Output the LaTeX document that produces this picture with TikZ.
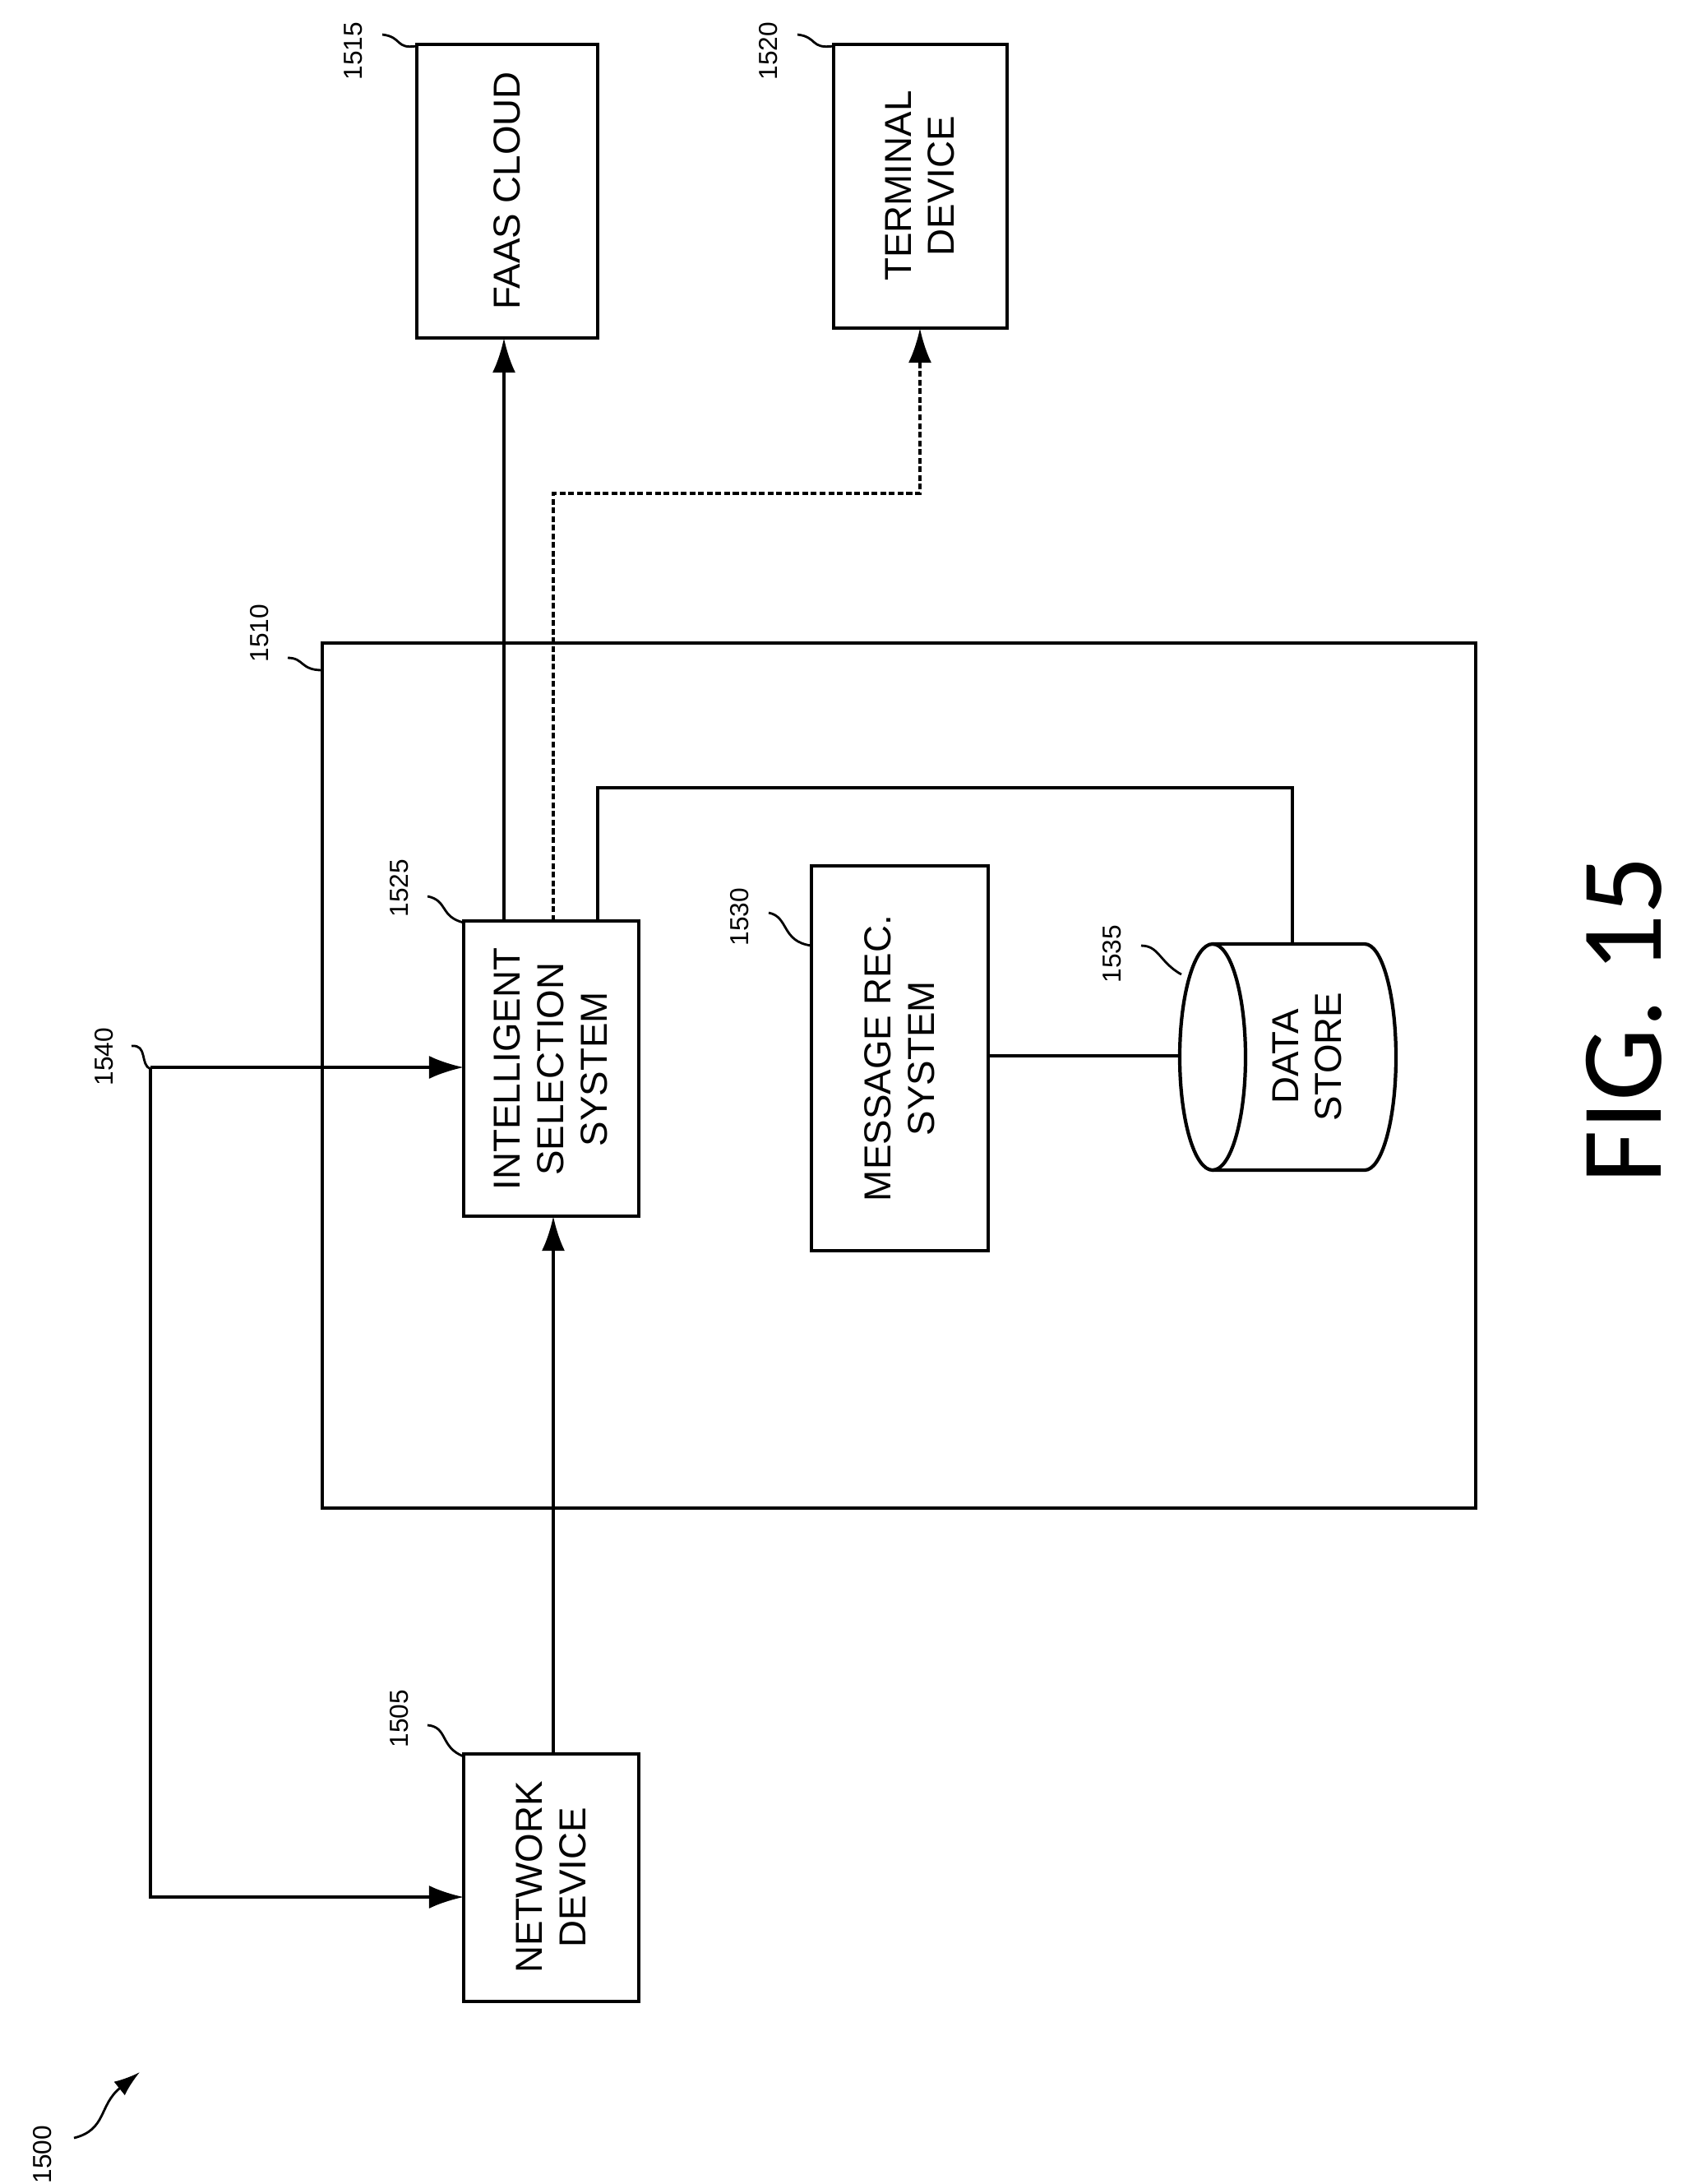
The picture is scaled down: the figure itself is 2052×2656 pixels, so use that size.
\documentclass[tikz,border=0pt]{standalone}
\usepackage{fontspec}
\setmainfont{Liberation Sans}
\newfontfamily\figfont{Carlito}
\usetikzlibrary{arrows.meta,shapes.geometric}
\begin{document}
\begin{tikzpicture}[x=0.01cm,y=-0.01cm,
  box/.style={draw,line width=1.2pt,inner sep=0pt},
  lbl/.style={rotate=90,align=center,font=\fontsize{13}{15}\selectfont},
  num/.style={rotate=90,font=\fontsize{9}{10}\selectfont},
  con/.style={line width=1.1pt},
  arr/.style={con,-{Latex[length=12pt,width=8pt]}},
  lead/.style={line width=0.8pt}]
\useasboundingbox (0,0) rectangle (2052,2656);
% outer
\draw[box] (392,782) rectangle (1795,1834);
% boxes
\draw[box] (507,54) rectangle (727,411); \node[lbl] (faas) at (617,232) {FAAS CLOUD};
\coordinate (faasb) at (613,411);
\draw[box] (1014,54) rectangle (1225,399); \node[lbl] (term) at (1119,226) {TERMINAL\\DEVICE};
\coordinate (termb) at (1119,399);
\draw[box] (564,1120) rectangle (777,1479); \node[lbl] (iss) at (670,1300) {INTELLIGENT\\SELECTION\\SYSTEM};
\draw[box] (987,1053) rectangle (1202,1521); \node[lbl] (msg) at (1094,1287) {MESSAGE REC.\\SYSTEM};
\draw[box] (564,2133) rectangle (777,2434); \node[lbl] (nd) at (670,2283) {NETWORK\\DEVICE};
% data store cylinder (horizontal axis)
\draw[box] (1475,1148) -- (1660,1148) arc[start angle=-90,end angle=90,x radius=38,y radius=137.5] -- (1475,1423);
\draw[box] (1475,1285.5) ellipse[x radius=40,y radius=137.5];
\node[lbl] (ds) at (1590,1285) {DATA\\STORE};
% connectors
\draw[arr] (613,1120) -- (faasb);
\draw[arr,dash pattern=on 2pt off 1pt] (673,1120) -- (673,600) -- (1119,600) -- (termb);
\draw[con] (727,1120) -- (727,958) -- (1572,958) -- (1572,1148);
\draw[con] (1202,1284) -- (1435,1284);
\draw[arr] (673,2133) -- (673,1479);
\coordinate (br1) at (183,1298); \coordinate (br2) at (183,2307);
\draw[arr] (br1) -- (564,1298);
\draw[arr] (br1) -- (br2) -- (564,2307);
% numbers
\node[num] at (430,62) {1515}; \draw[lead] (465,42) .. controls (490,45) and (480,60) .. (507,56);
\node[num] at (935,62) {1520}; \draw[lead] (970,42) .. controls (995,45) and (985,60) .. (1014,56);
\node[num] at (316,770) {1510}; \draw[lead] (350,800) .. controls (370,800) and (365,815) .. (392,815);
\node[num] at (486,1080) {1525}; \draw[lead] (520,1090) .. controls (545,1095) and (535,1115) .. (564,1122);
\node[num] at (900,1115) {1530}; \draw[lead] (935,1110) .. controls (960,1115) and (950,1145) .. (987,1150);
\node[num] at (1353,1160) {1535}; \draw[lead] (1388,1150) .. controls (1410,1150) and (1410,1170) .. (1437,1185);
\node[num] at (127,1285) {1540}; \draw[lead] (160,1272) .. controls (180,1270) and (170,1295) .. (183,1300);
\node[num] at (486,2090) {1505}; \draw[lead] (520,2098) .. controls (545,2100) and (535,2125) .. (564,2136);
\node[num] at (52,2620) {1500};
\draw[lead,-{Latex[length=9pt,width=6pt]}] (90,2600) .. controls (130,2590) and (120,2560) .. (170,2520);
\node[rotate=90,font=\figfont\fontsize{40}{46}\selectfont] (fig) at (1975,1240) {FIG. 15};
\end{tikzpicture}
\end{document}
